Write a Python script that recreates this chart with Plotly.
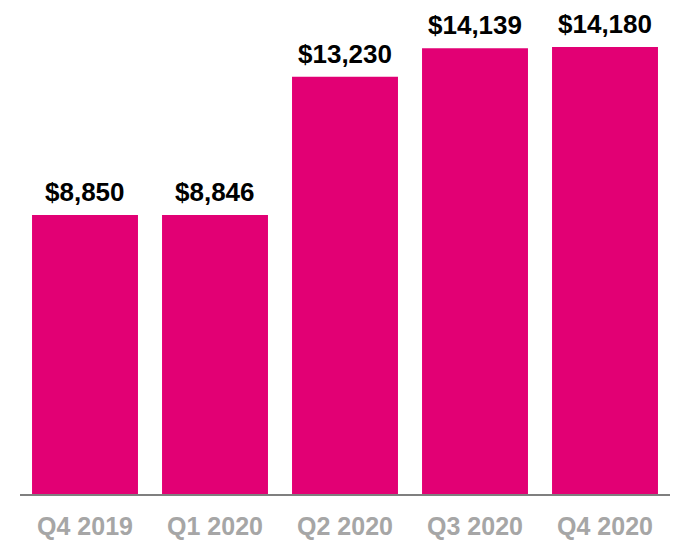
import plotly.graph_objects as go

categories = ["Q4 2019", "Q1 2020", "Q2 2020", "Q3 2020", "Q4 2020"]
values = [8850, 8846, 13230, 14139, 14180]
labels = ["$8,850", "$8,846", "$13,230", "$14,139", "$14,180"]

fig = go.Figure()
fig.add_trace(go.Bar(x=categories, y=values, marker=dict(color="#E20074", line=dict(width=0)),
                     hoverinfo="skip"))

for c, v, t in zip(categories, values, labels):
    fig.add_annotation(x=c, y=v, text="<b>" + t + "</b>", showarrow=False,
                       yanchor="bottom", yshift=6,
                       font=dict(family="Liberation Sans, Arial", size=26, color="#000000"))

fig.update_layout(
    width=690, height=560,
    margin=dict(l=12, r=28, t=12, b=74),
    paper_bgcolor="white", plot_bgcolor="white",
    bargap=0.185,
    showlegend=False,
    xaxis=dict(showline=True, linecolor="#7F7F7F", linewidth=2, ticks="",
               tickfont=dict(family="Liberation Sans, Arial", size=25, color="#A6A6A6"),
               ticklabelstandoff=9, showgrid=False),
    yaxis=dict(range=[0, 15033], visible=False, showgrid=False, zeroline=False),
)
fig.update_xaxes(tickvals=categories, ticktext=["<b>" + c + "</b>" for c in categories])

fig.write_html("out.html")
